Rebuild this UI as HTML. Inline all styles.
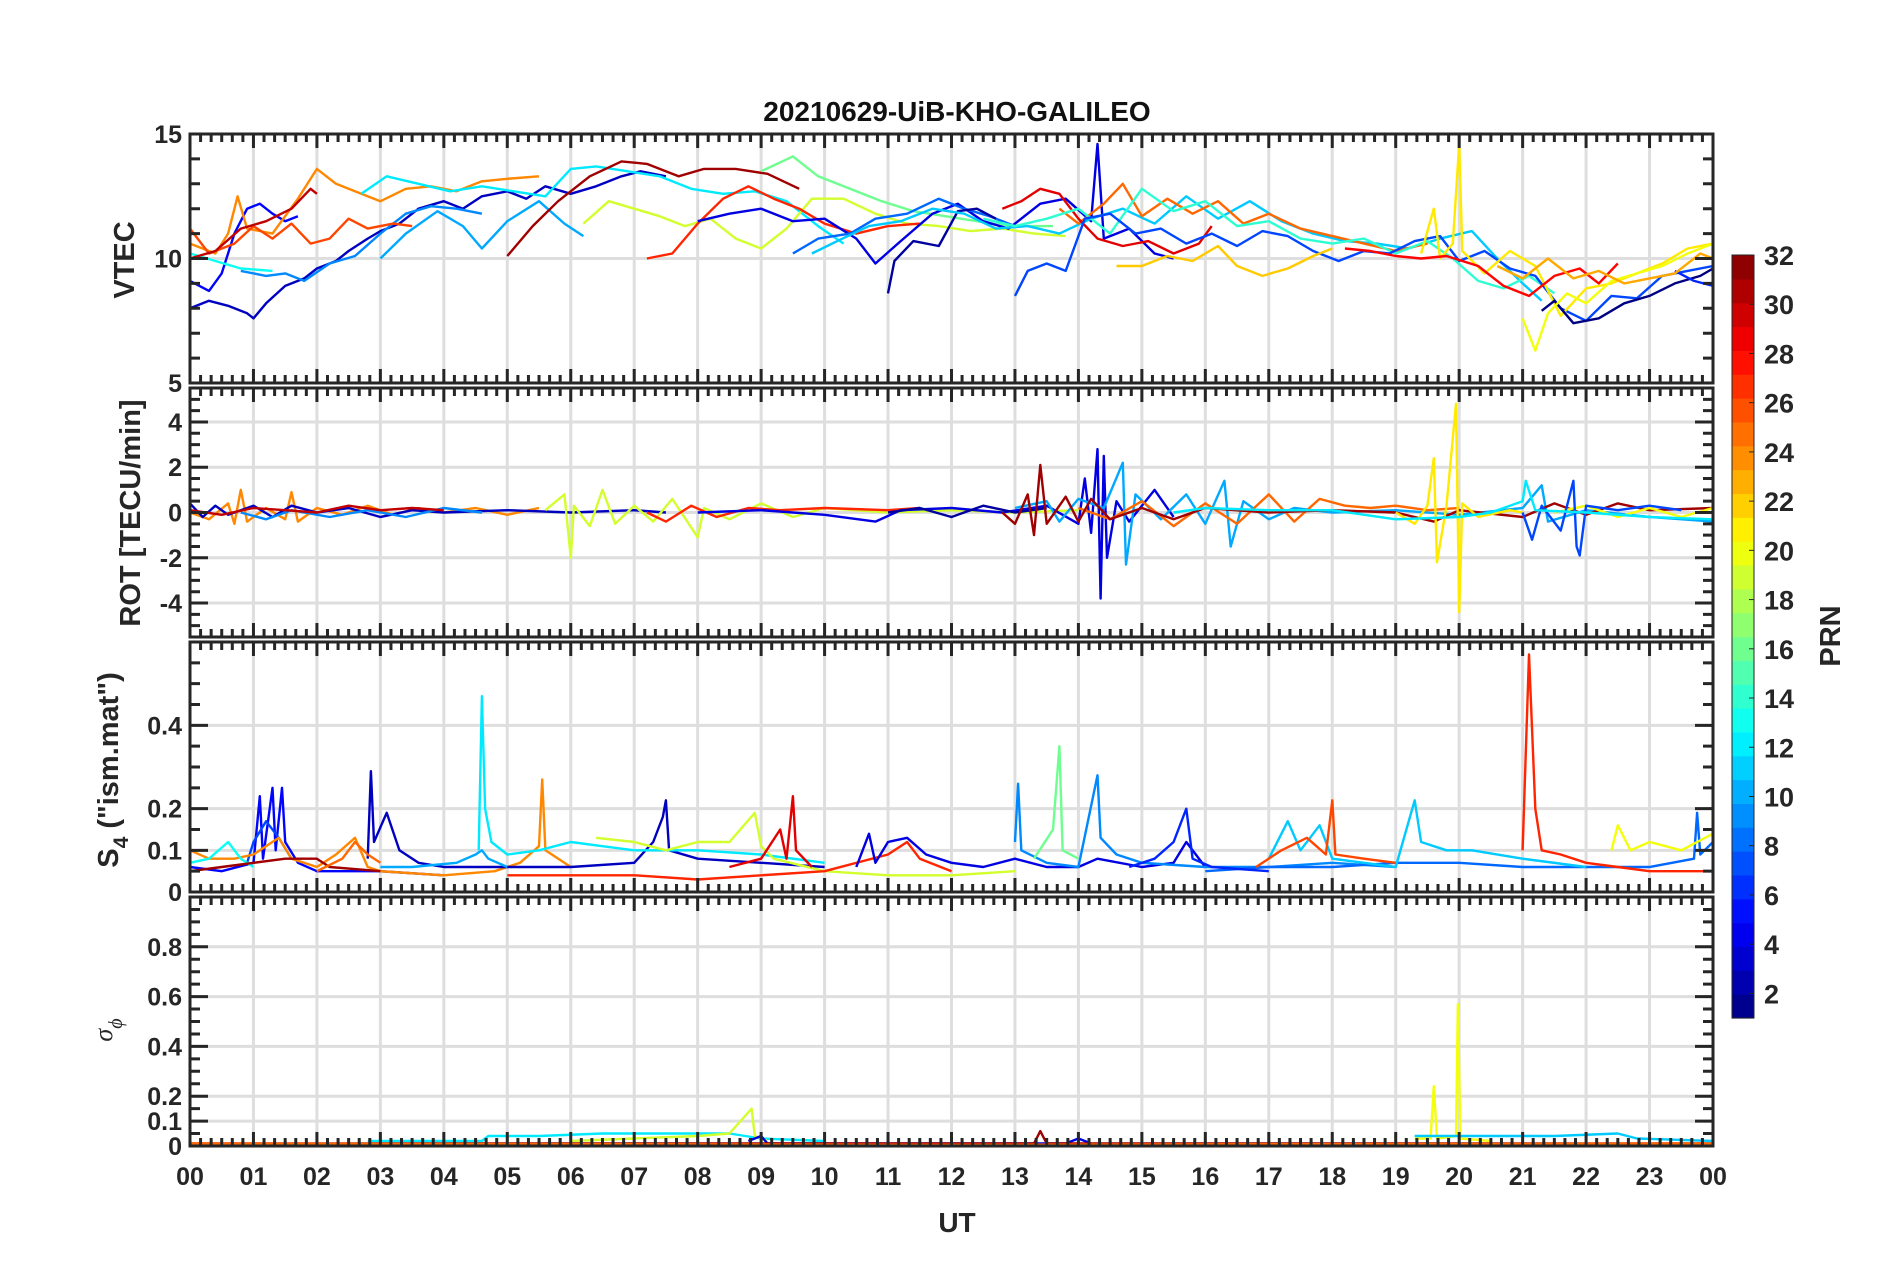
<!DOCTYPE html>
<html><head><meta charset="utf-8"><style>
html,body{margin:0;padding:0;background:#fff;}
svg{display:block;font-family:"Liberation Sans",Arial,sans-serif;font-weight:bold;}
</style></head>
<body>
<svg id="fig" width="1902" height="1272" viewBox="0 0 1902 1272" xmlns="http://www.w3.org/2000/svg">
<text x="957" y="121" font-size="28" text-anchor="middle" fill="#111">20210629-UiB-KHO-GALILEO</text>
<g id="grid"></g>
<g id="series"></g>
<g id="axes"></g>
<text x="957" y="1232" font-size="28" text-anchor="middle" fill="#262626">UT</text>
<text transform="translate(134,260) rotate(-90)" font-size="29" text-anchor="middle" fill="#262626">VTEC</text>
<text transform="translate(140,513) rotate(-90)" font-size="29" text-anchor="middle" fill="#262626">ROT [TECU/min]</text>
<text transform="translate(118,770) rotate(-90)" font-size="29" text-anchor="middle" fill="#262626">S<tspan font-size="21" dy="10">4</tspan><tspan dy="-10"> ("ism.mat")</tspan></text>
<text transform="translate(112,1030) rotate(-90)" font-size="26" text-anchor="middle" fill="#262626" font-style="italic" font-weight="normal" font-family="Liberation Serif,serif">σ<tspan font-size="20" dy="10">ϕ</tspan></text>
<g id="cbar"></g>
<text transform="translate(1840,636) rotate(-90)" font-size="29" text-anchor="middle" fill="#262626">PRN</text>
</svg>
<script>
// ---- data ----
const hourTicks=["00","01","02","03","04","05","06","07","08","09","10","11","12","13","14","15","16","17","18","19","20","21","22","23","00"];
const vtecTicks=[5,10,15];
const rotTicks=[-4,-2,0,2,4];
const s4Ticks=[0,0.1,0.2,0.4];
const sigTicks=[0,0.1,0.2,0.4,0.6,0.8];
const cbarTicks=[2,4,6,8,10,12,14,16,18,20,22,24,26,28,30,32];

const vtecPRN=[3,5,9,13,24,26,30,12,10,31,19,16,27,4,8,2,11,25,29,14,7,22,21,28,1,6,20,23];
const vtecSeries=[
 [[0,8.0],[0.3,8.3],[0.6,8.1],[0.9,7.8],[1.0,7.6],[1.2,8.2],[1.5,8.9],[1.8,9.2],[2.0,9.6],[2.3,9.9],[2.5,10.3],[2.8,10.8],[3.0,11.1],[3.3,11.4],[3.6,12.0],[4.0,12.3],[4.3,12.0],[4.6,12.5],[5.0,12.7],[5.3,12.4],[5.6,12.9],[6.0,12.6],[6.4,12.9],[6.8,13.3],[7.1,13.5],[7.5,13.3]],
 [[0,9.1],[0.3,8.7],[0.5,9.4],[0.7,11.0],[0.9,12.0],[1.1,12.2],[1.3,11.8],[1.5,11.5],[1.7,11.7]],
 [[0.8,9.5],[1.2,9.3],[1.5,9.4],[1.8,9.1],[2.2,9.8],[2.6,10.1],[3.0,11.0],[3.4,11.8],[3.8,12.1],[4.2,12.0],[4.6,11.8]],
 [[0,10.2],[0.4,9.9],[0.8,9.6],[1.3,9.5]],
 [[0,10.6],[0.4,10.2],[0.6,11.0],[0.75,12.5],[0.9,11.2],[1.3,11.0],[1.7,12.4],[2.0,13.6],[2.3,13.0],[2.7,12.6],[3.0,12.3],[3.4,12.8],[3.8,12.9],[4.2,12.7],[4.6,13.1],[5.0,13.2],[5.5,13.3]],
 [[0,11.2],[0.3,10.2],[0.7,10.6],[1.0,11.3],[1.3,10.8],[1.6,11.4],[1.9,10.6],[2.2,10.8],[2.5,11.6],[2.8,11.2],[3.2,11.4],[3.5,11.3]],
 [[0,10.0],[0.4,10.3],[0.8,11.2],[1.2,11.5],[1.6,12.0],[1.9,12.8],[2.0,12.6]],
 [[2.7,12.6],[3.1,13.3],[3.6,13.0],[4.1,12.7],[4.6,12.9],[5.1,12.7],[5.6,12.5],[6.0,13.6],[6.4,13.7],[6.9,13.5],[7.4,13.3],[7.9,12.8],[8.4,12.6],[8.9,12.7],[9.4,12.3],[9.9,11.3],[10.3,10.6]],
 [[3.0,10.0],[3.4,11.0],[3.9,11.9],[4.3,11.3],[4.6,10.4],[5.0,11.5],[5.5,12.3],[5.9,11.4],[6.2,10.9]],
 [[5.0,10.1],[5.4,11.3],[5.8,12.3],[6.3,13.3],[6.8,13.9],[7.2,13.8],[7.7,13.3],[8.1,13.6],[8.6,13.6],[9.1,13.4],[9.6,12.8]],
 [[6.2,11.4],[6.6,12.3],[7.0,12.0],[7.4,11.7],[7.8,11.3],[8.2,11.6],[8.6,10.8],[9.0,10.4],[9.4,11.2],[9.8,12.4],[10.3,12.4],[10.8,11.8],[11.3,11.4],[11.8,11.3],[12.3,11.1],[12.8,11.2],[13.3,11.0],[13.8,10.9]],
 [[9.0,13.5],[9.5,14.1],[9.9,13.3],[10.4,12.8],[10.9,12.3],[11.4,11.9],[11.9,11.7],[12.4,11.5],[12.9,11.3],[13.6,11.3]],
 [[7.2,10.0],[7.6,10.2],[8.0,11.4],[8.4,12.4],[8.8,12.9],[9.2,12.4],[9.6,12.0],[10.0,11.4],[10.5,11.0],[11.0,11.3],[11.5,11.4]],
 [[8.0,11.5],[8.5,11.8],[9.0,12.0],[9.5,11.5],[10.0,11.6],[10.5,10.8],[10.8,9.8],[11.2,10.7],[11.7,11.8],[12.1,12.2],[12.5,11.5],[12.9,11.2],[13.4,12.2],[13.8,12.4],[14.2,11.5],[14.3,14.6],[14.4,10.8],[14.8,11.2],[15.2,10.2],[15.5,10.0]],
 [[9.5,10.2],[9.9,10.8],[10.4,11.0],[10.8,11.6],[11.3,11.8],[11.8,12.4],[12.2,12.0],[12.6,11.7],[13.0,11.3]],
 [[11.0,8.6],[11.1,9.9],[11.4,10.7],[11.8,10.5],[12.1,11.9],[12.4,12.0],[12.7,11.6]],
 [[9.8,10.2],[10.2,10.7],[10.7,11.3],[11.2,11.5],[11.7,12.0],[12.2,11.8],[12.7,11.2],[13.2,11.3],[13.7,11.0],[14.2,11.6],[14.7,12.0],[15.2,11.4],[15.7,12.5],[16.2,11.6],[16.7,12.3],[17.2,11.5],[17.7,11.0],[18.2,10.7],[18.7,10.6],[19.2,10.4],[19.7,10.8],[20.2,11.1],[20.6,10.0],[21.0,9.0],[21.3,8.3]],
 [[13.7,12.0],[14.0,11.4],[14.4,12.2],[14.7,13.0],[15.0,11.7],[15.4,12.4],[15.8,11.8],[16.2,12.3],[16.6,11.4],[17.0,11.8],[17.5,11.2],[18.0,10.9],[18.5,10.6],[19.0,10.3],[19.5,10.6]],
 [[12.8,12.0],[13.1,12.3],[13.4,12.8],[13.7,12.6],[14.0,11.6],[14.3,10.8],[14.7,10.5],[15.1,10.7],[15.5,10.2],[15.9,10.6],[16.1,11.3]],
 [[12.5,11.6],[13.0,11.3],[13.5,11.6],[14.0,12.0],[14.5,11.0],[15.0,12.8],[15.5,11.9],[16.0,12.3],[16.5,11.3],[17.0,11.5],[17.5,10.8],[18.0,10.6],[18.5,10.8],[19.0,10.2],[19.5,10.7],[19.9,10.0],[20.3,9.1],[20.7,8.8],[21.1,9.3],[21.5,8.6]],
 [[13.0,8.5],[13.2,9.5],[13.5,9.8],[13.8,9.5],[14.1,11.6],[14.5,11.8],[14.9,11.0],[15.3,11.2],[15.7,10.6],[16.1,11.0],[16.5,10.5],[16.9,11.1],[17.3,10.9],[17.7,10.3],[18.1,9.9],[18.5,10.3],[18.9,10.2],[19.3,10.7],[19.7,10.9],[20.0,9.9],[20.4,10.3],[20.8,9.6],[21.2,9.3],[21.6,8.0],[22.0,7.5],[22.4,8.5],[22.8,8.4],[23.2,9.3],[23.6,9.5],[24,9.7]],
 [[14.6,9.7],[15.0,9.7],[15.4,10.1],[15.8,9.9],[16.2,10.5],[16.5,9.7],[16.9,9.3],[17.3,9.6],[17.7,10.1],[18.0,10.4]],
 [[19.4,10.2],[19.6,12.0],[19.7,10.0],[19.9,10.6],[20.0,14.6],[20.05,10.3],[20.4,9.4],[20.8,10.3],[21.2,9.7],[21.6,7.7],[22.0,8.8],[22.4,9.0],[22.8,9.4],[23.2,9.8],[23.6,10.4],[24,10.6]],
 [[18.2,10.4],[18.6,10.3],[19.0,10.1],[19.4,10.0],[19.8,10.1],[20.3,9.7],[20.7,8.9],[21.1,8.5],[21.5,9.3],[21.9,9.6],[22.2,9.0],[22.5,9.8]],
 [[21.3,7.9],[21.5,8.3],[21.8,7.4],[22.2,7.6],[22.6,8.2],[23.0,8.5],[23.4,9.0],[23.8,9.3],[24,9.6]],
 [[23.4,9.5],[23.7,9.1],[24,8.9]],
 [[21.0,7.6],[21.2,6.3],[21.4,7.8],[21.7,8.6],[22.0,8.2],[22.4,9.1],[22.8,9.4],[23.2,9.7],[23.6,10.2],[24,10.6]],
 [[20.6,9.7],[21.0,9.2],[21.4,10.0],[21.8,9.2],[22.2,9.5],[22.6,9.0],[23.0,9.2],[23.4,9.4],[23.8,10.2],[24,10.0]]
];

const rotPRN=[24,3,9,30,19,27,4,2,10,25,31,21,20,7,12];
const rotSeries=[
 [[0,0],[0.3,-0.3],[0.6,0.4],[0.7,-0.5],[0.8,1.0],[0.9,-0.4],[1.2,0.2],[1.5,-0.3],[1.6,0.9],[1.7,-0.4],[2.0,0.2],[2.4,-0.1],[2.8,0.3],[3.2,-0.1],[3.6,0.2],[4.0,0],[4.5,0.2],[5.0,-0.1],[5.5,0.2]],
 [[0,0.4],[0.2,-0.2],[0.4,0.3],[0.6,-0.1],[1.0,0.3],[1.3,-0.2],[1.6,0.3],[2.0,0],[2.5,0.2],[3.0,-0.2],[3.5,0.1],[4.0,0],[5.0,0.1],[6.0,0],[7.0,0.1],[7.5,0]],
 [[0.8,0],[1.2,-0.3],[1.6,0.1],[2.2,-0.2],[2.8,0.1],[3.4,-0.2],[4.0,0.2],[4.6,0]],
 [[0,0.1],[0.5,-0.1],[1.0,0.2],[1.5,0.1],[2.0,0],[2.5,0.3],[3.0,0.1],[3.5,0.2],[4.0,0.1]],
 [[5.6,0.1],[5.9,0.8],[6.0,-2.0],[6.05,0.3],[6.3,-0.6],[6.5,1.0],[6.7,-0.5],[7.0,0.3],[7.3,-0.4],[7.6,0.6],[8.0,-1.1],[8.1,0.2],[8.5,-0.3],[9.0,0.4],[9.5,-0.2],[10.0,0.2],[11.0,0],[12.0,0.1],[13.0,0],[14.0,0.1]],
 [[7.2,0],[7.5,-0.4],[7.9,0.3],[8.3,-0.2],[8.8,0.2],[9.3,0.1],[10,0.2],[11,0.1],[11.5,0.2]],
 [[8.0,0],[9,0.1],[10,-0.1],[10.8,-0.4],[11.2,0.1],[12,0.2],[12.8,0],[13.5,0.3],[14.0,-0.5],[14.1,1.5],[14.2,-0.9],[14.3,2.8],[14.35,-3.8],[14.4,2.5],[14.45,-2.0],[14.6,0.5],[14.8,-0.4],[15.2,1.0],[15.5,-0.2]],
 [[11,0],[11.5,0.2],[12,-0.2],[12.5,0.3],[13,0],[13.5,0.2]],
 [[13.0,0.2],[13.5,0.5],[13.7,-0.4],[14.0,0.6],[14.4,0.2],[14.7,2.2],[14.75,-2.3],[14.9,0.8],[15.3,-0.3],[15.7,0.8],[16.0,-0.5],[16.3,1.4],[16.4,-1.5],[16.6,0.5],[17.0,-0.3],[17.4,0.2],[18.0,0],[19.0,0.1],[20.0,-0.1],[21.0,0.2],[21.3,1.2],[21.4,-0.4],[22,0.1],[23,-0.2],[24,-0.4]],
 [[14.0,0.2],[14.5,-0.3],[15.0,0.5],[15.5,-0.6],[16.0,0.4],[16.5,-0.5],[17.0,0.8],[17.4,-0.4],[17.8,0.6],[18.2,0.3],[18.6,0.2],[19.0,0.3],[19.5,0.1],[20,0.2]],
 [[12.8,0],[13.0,-0.5],[13.2,0.8],[13.3,-1.0],[13.4,2.1],[13.5,-0.5],[13.8,0.7],[14.0,-0.4],[14.2,0.6],[14.5,-0.3],[15.0,0.2],[15.5,-0.3],[16.0,0.2],[17,0],[18,0.1],[19,0],[19.6,-0.4],[20,0.1],[21,-0.2],[21.5,0.4],[22,-0.1],[22.5,0.4],[23,0.1],[24,0.2]],
 [[19.0,0],[19.3,-0.5],[19.5,0.3],[19.6,2.4],[19.65,-2.2],[19.8,0.3],[19.95,4.8],[20.0,-4.4],[20.05,0.4],[20.3,-0.2],[20.8,0.1],[21,0]],
 [[21.5,0],[22,0.3],[22.5,-0.2],[23,0.2],[23.5,-0.2],[24,0.2]],
 [[21.0,0],[21.15,-1.2],[21.3,0.3],[21.6,-0.8],[21.8,1.4],[21.85,-1.5],[21.9,-1.9],[22,0.3],[22.5,0.1],[23,0.3],[23.5,0.1]],
 [[15.5,0],[16,0.2],[17,0.1],[18,0.1],[19,-0.3],[20,-0.2],[20.5,0],[21,0.5],[21.05,1.4],[21.2,0.1],[22,0],[23,-0.2],[24,-0.3]]
];

const s4PRN=[5,7,24,13,3,10,12,31,25,19,29,27,4,9,16,8,11,26,27,20,6];
const s4Series=[
 [[0,0.06],[0.5,0.05],[1.0,0.07],[1.1,0.23],[1.15,0.08],[1.3,0.25],[1.35,0.1],[1.45,0.25],[1.5,0.12],[1.7,0.07],[2.0,0.05],[3.0,0.05],[4,0.04]],
 [[0.9,0.07],[1.0,0.12],[1.2,0.17],[1.4,0.13],[1.6,0.08]],
 [[0,0.1],[0.3,0.08],[0.7,0.08],[1.0,0.09],[1.4,0.13],[1.6,0.08],[2.0,0.06],[2.3,0.09],[2.6,0.13],[2.8,0.06],[3,0.05],[4,0.04],[4.8,0.05],[5.2,0.07],[5.5,0.11],[5.55,0.27],[5.6,0.1],[6,0.06]],
 [[0,0.07],[0.3,0.08],[0.6,0.12],[0.8,0.08],[1.0,0.06]],
 [[2.8,0.08],[2.85,0.29],[2.9,0.12],[3.1,0.19],[3.3,0.1],[3.6,0.07],[4.0,0.06],[5.0,0.06],[6.0,0.06],[7.0,0.07],[7.3,0.12],[7.45,0.18],[7.5,0.22],[7.55,0.1],[8.0,0.08],[9,0.07],[10,0.06]],
 [[3.0,0.06],[3.5,0.06],[4.2,0.07],[4.5,0.09],[4.6,0.1],[4.7,0.08],[5,0.06]],
 [[4.55,0.1],[4.6,0.47],[4.65,0.2],[4.75,0.12],[5,0.09],[5.5,0.1],[6,0.12],[6.5,0.11],[7,0.1],[8,0.1],[9,0.09],[10,0.07]],
 [[0,0.05],[0.5,0.06],[1,0.07],[1.5,0.08],[2.0,0.08],[2.2,0.06],[3,0.05]],
 [[2.0,0.05],[2.4,0.08],[2.6,0.12],[2.8,0.09],[3.0,0.07]],
 [[6.4,0.13],[7.0,0.12],[7.5,0.1],[8.0,0.12],[8.5,0.12],[8.9,0.19],[9.0,0.11],[9.2,0.08],[10,0.05],[11,0.04],[12,0.04],[13,0.05]],
 [[8.5,0.06],[9.0,0.08],[9.3,0.15],[9.4,0.08],[9.5,0.23],[9.55,0.1],[9.8,0.06]],
 [[5,0.04],[6,0.04],[7,0.04],[8,0.03],[9,0.04],[10,0.05],[11,0.09],[11.3,0.12],[11.5,0.08],[12,0.05]],
 [[10.5,0.06],[10.7,0.14],[10.8,0.07],[11,0.12],[11.3,0.13],[11.6,0.09],[12,0.07],[12.5,0.06],[13,0.08],[13.5,0.06],[14,0.06],[14.3,0.08],[15,0.06],[15.5,0.07],[15.7,0.12],[16,0.06]],
 [[13.0,0.12],[13.05,0.26],[13.1,0.1],[13.5,0.07],[14.0,0.06],[14.3,0.28],[14.35,0.13],[14.6,0.09],[15,0.07],[16,0.06],[17,0.06],[18,0.07],[19,0.06]],
 [[13.3,0.08],[13.6,0.15],[13.7,0.35],[13.75,0.1],[14,0.08]],
 [[16,0.05],[17,0.06],[18,0.06],[19,0.07],[20,0.07],[21,0.06],[22,0.06],[23,0.06],[23.7,0.08],[23.75,0.19],[23.8,0.09],[24,0.12]],
 [[17.0,0.08],[17.3,0.17],[17.5,0.1],[17.8,0.16],[18,0.08],[19,0.06],[19.3,0.22],[19.4,0.12],[19.8,0.1],[20.2,0.1],[21,0.08],[22,0.06]],
 [[16.8,0.06],[17.2,0.1],[17.6,0.13],[17.9,0.09],[18.0,0.22],[18.05,0.09],[18.5,0.08],[19,0.07]],
 [[21.0,0.1],[21.1,0.57],[21.2,0.2],[21.3,0.1],[21.6,0.09],[22,0.07],[22.5,0.06],[23,0.05],[24,0.05]],
 [[22.4,0.1],[22.5,0.16],[22.7,0.1],[23,0.12],[23.5,0.1],[24,0.14]],
 [[14.8,0.06],[15.2,0.08],[15.5,0.12],[15.7,0.2],[15.8,0.08],[16.1,0.06],[17,0.05]]
];

const sigPRN=[12,19,4,31,27,25,20,11];
const sigSeries=[
 [[2.8,0.02],[4.6,0.02],[4.7,0.04],[5.5,0.04],[6.5,0.05],[7.5,0.05],[8.5,0.05],[9,0.03],[10,0.02]],
 [[6.0,0.02],[7,0.03],[8,0.04],[8.5,0.05],[8.85,0.15],[8.9,0.04],[9.1,0.02]],
 [[8.8,0.02],[9.0,0.04],[9.1,0.01],[13.8,0.01],[14,0.03],[14.2,0.01]],
 [[0,0.01],[6,0.01],[12,0.01],[13.3,0.01],[13.4,0.06],[13.5,0.01],[24,0.01]],
 [[0,0.005],[8,0.005],[16,0.005],[24,0.005]],
 [[0,0.01],[12,0.005],[24,0.01]],
 [[19.3,0.03],[19.55,0.03],[19.6,0.24],[19.65,0.03],[19.95,0.04],[19.98,0.57],[20.02,0.03],[20.5,0.02]],
 [[19.3,0.04],[20,0.04],[21.5,0.04],[22.5,0.05],[22.8,0.03],[24,0.02]]
];

// ---- layout ----
const X0=190, X1=1713;
const panels=[
 {name:'vtec',top:134,bot:383,min:5,max:15,ticks:vtecTicks,minor:1,prn:vtecPRN,data:vtecSeries},
 {name:'rot',top:388,bot:637,min:-5.5,max:5.5,ticks:rotTicks,minor:0.5,prn:rotPRN,data:rotSeries},
 {name:'s4',top:642,bot:892,min:0,max:0.6,ticks:s4Ticks,minor:0.05,prn:s4PRN,data:s4Series},
 {name:'sigma',top:897,bot:1146,min:0,max:1,ticks:sigTicks,minor:0.05,prn:sigPRN,data:sigSeries}
];
const xs=h=>X0+(X1-X0)*h/24;
const NS='http://www.w3.org/2000/svg';
function mk(tag,attrs,parent){const e=document.createElementNS(NS,tag);for(const k in attrs)e.setAttribute(k,attrs[k]);parent.appendChild(e);return e;}
function jet(v){v=(v-1)/31;const c=t=>Math.round(255*Math.max(0,Math.min(1,1.5-Math.abs(4*v-t))));return `rgb(${c(3)},${c(2)},${c(1)})`;}
function jetBin(i){return jet(1+ (i+0.5)*31/32);}
const G=document.getElementById('grid'),S=document.getElementById('series'),A=document.getElementById('axes');
panels.forEach(p=>{
 const ys=v=>p.bot-(v-p.min)/(p.max-p.min)*(p.bot-p.top);
 for(let h=1;h<24;h++){const l=mk('line',{x1:xs(h),x2:xs(h),y1:p.top,y2:p.bot,stroke:'#dedede','stroke-width':3},G);
  }
 p.ticks.forEach(t=>{if(t===p.min)return;const l=mk('line',{x1:X0,x2:X1,y1:ys(t),y2:ys(t),stroke:'#dedede','stroke-width':3},G);
  });
 p.data.forEach((ser,i)=>{
  const pts=ser.map(d=>xs(d[0]).toFixed(1)+','+ys(Math.max(p.min,Math.min(p.max,d[1]))).toFixed(1)).join(' ');
  const pl=mk('polyline',{points:pts,fill:'none',stroke:jet(p.prn[i]),'stroke-width':2.4,'stroke-linejoin':'round'},S);
  
  
 });
 const box=mk('rect',{x:X0,y:p.top,width:X1-X0,height:p.bot-p.top,fill:'none',stroke:'#262626','stroke-width':3},A);
 
 let d='';
 for(let m=1;m<144;m++){const x=xs(m/6);const L=m%6===0?14:8;d+=`M${x},${p.top}v${L}M${x},${p.bot}v${-L}`;}
 for(let v=p.min+p.minor;v<p.max-1e-9;v+=p.minor){const y=ys(v);const maj=p.ticks.some(t=>Math.abs(t-v)<1e-6);d+=`M${X0},${y}h${maj?18:10}M${X1},${y}h${-(maj?18:10)}`;}
 const tk=mk('path',{d:d,stroke:'#262626','stroke-width':3,fill:'none'},A);
 
 p.ticks.forEach(t=>{const tx=mk('text',{x:X0-8,y:ys(t)+9,'font-size':25,'text-anchor':'end',fill:'#262626'},A);tx.textContent=String(t);
  });
});
hourTicks.forEach((t,i)=>{const tx=mk('text',{x:xs(i),y:1185,'font-size':25,'text-anchor':'middle',fill:'#262626'},A);tx.textContent=t;
 });
// colorbar
const CB=document.getElementById('cbar');const cx=1732,cw=22,ct=255,cb=1018;
for(let i=0;i<32;i++){const h=(cb-ct)/32;const r=mk('rect',{x:cx,y:cb-(i+1)*h,width:cw,height:h+0.6,fill:jetBin(i)},CB);
 }
mk('rect',{x:cx,y:ct,width:cw,height:cb-ct,fill:'none',stroke:'#262626','stroke-width':1},CB);
cbarTicks.forEach(t=>{const y=cb-(t-1)/31*(cb-ct);mk('line',{x1:cx+cw-5,x2:cx+cw,y1:y,y2:y,stroke:'#262626','stroke-width':1},CB);
 const tx=mk('text',{x:cx+32,y:y+10,'font-size':27,fill:'#262626'},CB);tx.textContent=String(t);
 });
</script>
</body></html>
